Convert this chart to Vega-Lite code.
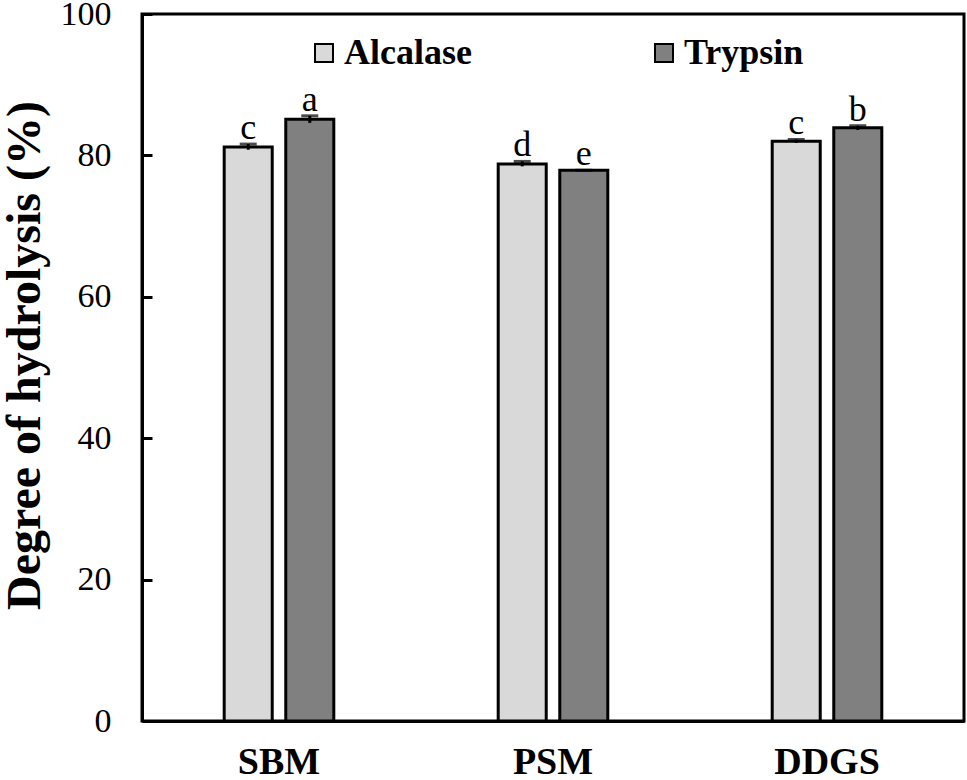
{
  "$schema": "https://vega.github.io/schema/vega-lite/v6.json",
  "width": 822,
  "height": 707,
  "autosize": {"type": "none"},
  "padding": {"left": 142, "top": 14, "right": 3, "bottom": 59},
  "background": "white",
  "config": {
    "view": {"stroke": "black", "strokeWidth": 3},
    "font": "Liberation Serif"
  },
  "data": {
    "values": [
      {"material": "SBM", "enzyme": "Alcalase", "value": 81.2, "err": 0.4, "letter": "c"},
      {"material": "SBM", "enzyme": "Trypsin", "value": 85.1, "err": 0.5, "letter": "a"},
      {"material": "PSM", "enzyme": "Alcalase", "value": 78.8, "err": 0.35, "letter": "d"},
      {"material": "PSM", "enzyme": "Trypsin", "value": 77.9, "err": 0.0, "letter": "e"},
      {"material": "DDGS", "enzyme": "Alcalase", "value": 82.0, "err": 0.25, "letter": "c"},
      {"material": "DDGS", "enzyme": "Trypsin", "value": 83.9, "err": 0.3, "letter": "b"}
    ]
  },
  "transform": [
    {"calculate": "datum.value + datum.err", "as": "hi"},
    {"calculate": "datum.value - datum.err", "as": "lo"}
  ],
  "encoding": {
    "x": {
      "field": "material",
      "type": "nominal",
      "sort": ["SBM", "PSM", "DDGS"],
      "scale": {"paddingInner": 0.6, "paddingOuter": 0.3},
      "axis": {
        "title": null,
        "labelAngle": 0,
        "labelFont": "Liberation Serif",
        "labelFontSize": 38,
        "labelFontWeight": "bold",
        "labelColor": "black",
        "labelPadding": 22,
        "ticks": false,
        "domainColor": "black",
        "domainWidth": 3
      }
    },
    "xOffset": {
      "field": "enzyme",
      "type": "nominal",
      "sort": ["Alcalase", "Trypsin"],
      "scale": {"paddingInner": 0.22, "paddingOuter": 0}
    }
  },
  "layer": [
    {
      "mark": {"type": "bar", "stroke": "black", "strokeWidth": 3},
      "encoding": {
        "y": {
          "field": "value",
          "type": "quantitative",
          "scale": {"domain": [0, 100], "nice": false},
          "axis": {
            "title": "Degree of hydrolysis (%)",
            "titleFont": "Liberation Serif",
            "titleFontSize": 48,
            "titleFontWeight": "bold",
            "titleColor": "black",
            "titlePadding": 11,
            "titleY": 341,
            "values": [0, 20, 40, 60, 80, 100],
            "grid": false,
            "labelFont": "Liberation Serif",
            "labelFontSize": 34,
            "labelColor": "black",
            "labelPadding": 41,
            "tickSize": -10,
            "tickColor": "black",
            "tickWidth": 3,
            "domainColor": "black",
            "domainWidth": 3
          }
        },
        "fill": {
          "field": "enzyme",
          "type": "nominal",
          "scale": {"domain": ["Alcalase", "Trypsin"], "range": ["#D9D9D9", "#808080"]},
          "legend": {
            "title": null,
            "orient": "none",
            "direction": "horizontal",
            "columns": 2,
            "legendX": 164,
            "legendY": 21,
            "padding": 0,
            "symbolType": "square",
            "symbolSize": 324,
            "symbolStrokeColor": "black",
            "symbolStrokeWidth": 2,
            "labelFont": "Liberation Serif",
            "labelFontSize": 36,
            "labelFontWeight": "bold",
            "labelColor": "black",
            "labelOffset": 2,
            "columnPadding": 174,
            "labelLimit": 400
          }
        }
      }
    },
    {
      "mark": {"type": "rule", "color": "black", "strokeWidth": 3},
      "encoding": {
        "y": {"field": "lo", "type": "quantitative"},
        "y2": {"field": "hi"}
      }
    },
    {
      "mark": {"type": "tick", "color": "black", "thickness": 3, "size": 17},
      "encoding": {
        "y": {"field": "hi", "type": "quantitative"}
      }
    },
    {
      "mark": {"type": "text", "font": "Liberation Serif", "fontSize": 36, "color": "black", "baseline": "alphabetic", "dy": -5},
      "encoding": {
        "y": {"field": "hi", "type": "quantitative"},
        "text": {"field": "letter"}
      }
    }
  ]
}
